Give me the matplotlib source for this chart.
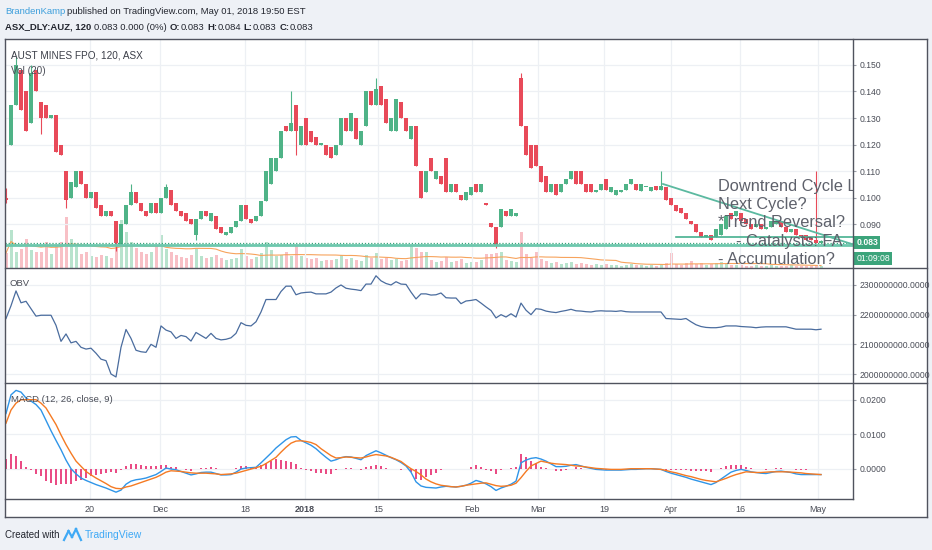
import numpy as np
import pandas as pd
import matplotlib
matplotlib.use('Agg')
import matplotlib.pyplot as plt
import matplotlib.transforms as mtransforms
from matplotlib.lines import Line2D
from matplotlib.patches import Rectangle
from matplotlib.ticker import FuncFormatter

plt.rcParams['font.family'] = ['Liberation Sans', 'DejaVu Sans']

W, H = 932, 550

# --- AUZ 120 min candles, prices in thousandths of a dollar ---
opens = [100, 120, 135, 148, 140, 128, 148, 136, 135, 130,
         131, 120, 110, 100, 104, 110, 105, 100, 102, 97,
         93, 95, 91, 82, 90, 97, 102, 98, 95, 94,
         98, 94, 100, 103, 98, 95, 94, 92, 86, 92,
         95, 91, 93, 89, 86, 86.5, 89, 91, 97, 92,
         91, 93, 98.5, 105, 110, 115, 127, 125, 135, 120,
         130, 125, 123, 120, 120, 119, 116, 120, 130, 125,
         130, 120, 127, 140, 135, 142, 137, 125, 125, 136,
         130, 122, 127, 110, 102, 115, 107, 108, 115, 102,
         105, 101, 99, 101, 105, 102, 98, 90.5, 89, 89,
         95, 93, 93, 145, 127, 120, 120, 112, 108, 102,
         105, 102, 105, 107, 110, 110, 105, 105, 102, 103,
         107, 102, 101, 102, 103, 105, 105, 102.5, 104, 102.5,
         104.5, 103, 104, 100, 97, 96, 94, 91, 90, 87,
         85, 86, 85, 86, 88, 94, 93, 94, 92, 90,
         89, 90, 88, 89, 90, 91, 89, 87, 88, 86,
         86, 85, 84, 83]
closes = [99, 135, 150, 133, 125, 147, 140, 130, 130, 131,
          117, 116, 99, 106, 110, 105, 100, 102, 96, 93,
          95, 93, 83, 90, 97, 102, 98, 95, 93, 98,
          94, 100, 104, 97, 95, 93, 91, 90, 92, 95,
          93, 94, 88, 86.5, 87, 89, 91, 97, 92, 90.5,
          93, 98.5, 110, 115, 115, 125, 125, 128, 125, 127,
          120, 121, 120, 120.5, 116, 115, 120, 130, 125, 132,
          122, 125, 140, 135, 141, 135, 128, 130, 137, 130,
          125, 127, 112, 100, 110, 110, 110, 105, 102, 105,
          102, 99, 102, 104, 102, 105, 97, 89, 82, 95.5,
          93, 95.5, 94, 127, 116, 111, 112, 106, 102, 105,
          101, 105, 107, 110, 105, 105, 102, 102, 103, 105,
          103, 104, 103, 103, 105, 107, 103, 105, 104, 104,
          103, 104.5, 99, 97, 95, 94, 92, 90, 87, 85,
          86, 84, 88, 90, 93, 92, 95, 91, 90, 88,
          90, 88, 89, 91, 91, 89, 87, 88, 86, 85,
          84, 84, 83, 83]
# wicks that stick out beyond the candle body
wick_highs = {0: 103.5, 2: 153, 5: 150, 25: 105, 32: 105, 57: 140, 74: 145,
              103: 147, 131: 110, 162: 110, 163: 84}
wick_lows = {0: 98, 7: 124, 12: 96, 22: 80, 38: 84, 58: 116, 98: 81}

volumes = [15, 38, 16, 19, 29, 18, 16, 16, 26, 14,
           22, 26, 51, 29, 21, 14, 16, 12, 11, 13,
           12, 10, 26, 48, 36, 26, 20, 16, 14, 16,
           22, 33, 19, 16, 13, 11, 10, 13, 19, 12,
           10, 11, 13, 10, 8, 9, 10, 19, 12, 9,
           11, 15, 26, 18, 12, 13, 16, 12, 23, 12,
           10, 9, 10, 7, 8, 8, 9, 13, 9, 10,
           8, 7, 13, 10, 15, 9, 10, 8, 9, 7,
           8, 23, 20, 16, 16, 8, 6, 7, 11, 6,
           7, 9, 5, 6, 6, 8, 14, 14, 15, 16,
           8, 7, 6, 36, 14, 10, 16, 9, 7, 5,
           6, 4, 5, 6, 4, 5, 4, 3, 4, 3,
           4, 3, 3, 2, 3, 4, 3, 3, 2, 3,
           2, 4, 5, 15, 4, 3, 5, 7, 4, 5,
           3, 4, 5, 6, 4, 3, 3, 3, 2, 2,
           3, 2, 2, 3, 2, 2, 2, 3, 2, 2,
           2, 2, 3, 2]

# on balance volume, millions
obv_millions = [2187, 2230, 2280, 2240, 2245, 2220, 2195, 2198, 2198, 2198,
                2164, 2110, 2135, 2105, 2110, 2090, 2084, 2087, 2070, 2050,
                2045, 2000, 1990, 2090, 2150, 2120, 2080, 2075, 2073, 2100,
                2090, 2162, 2148, 2142, 2120, 2130, 2126, 2111, 2140, 2130,
                2120, 2137, 2120, 2115, 2117, 2122, 2137, 2173, 2164, 2162,
                2176, 2209, 2251, 2251, 2251, 2278, 2296, 2296, 2267, 2273,
                2275, 2276, 2270, 2270, 2270, 2276, 2290, 2300, 2289, 2286,
                2284, 2281, 2303, 2303, 2331, 2314, 2305, 2300, 2311, 2303,
                2302, 2276, 2253, 2270, 2270, 2266, 2267, 2273, 2257, 2256,
                2256, 2237, 2246, 2248, 2251, 2239, 2226, 2214, 2189, 2200,
                2192, 2203, 2192, 2239, 2215, 2200, 2220, 2218, 2212, 2209,
                2207, 2211, 2214, 2218, 2213, 2212, 2210, 2209, 2212, 2213,
                2212, 2212, 2211, 2213, 2210, 2209, 2209, 2209, 2209, 2209,
                2209, 2209, 2187, 2186, 2185, 2184, 2187, 2176, 2166, 2160,
                2157, 2156, 2156, 2158, 2162, 2162, 2162, 2160, 2159, 2158,
                2156, 2158, 2159, 2159, 2159, 2159, 2159, 2155, 2151, 2151,
                2151, 2151, 2149, 2151]

# MACD (12, 26, 9) lines, in units of 0.0001
macd_line = [160, 214, 227, 222, 205, 196, 186, 170, 140, 110,
             82, 55, 25, 0, -15, -27, -34, -40, -46, -51,
             -56, -62, -68, -62, -45, -36, -32, -30, -27, -22,
             -17, -8, 2, -1, -3, -8, -13, -18, -15, -11,
             -10, -10, -14, -18, -18, -17, -10, -1, 2, 3,
             4, 17, 31, 45, 60, 72, 84, 92, 93, 82,
             75, 68, 58, 45, 33, 22, 26, 32, 35, 34,
             30, 26, 38, 45, 52, 46, 39, 32, 26, 18,
             8, -10, -38, -50, -54, -55, -56, -53, -51, -52,
             -53, -51, -48, -42, -34, -38, -44, -52, -63, -56,
             -51, -45, -36, 17, 25, 30, 32, 28, 22, 14,
             6, 6, 7, 10, 12, 8, 4, 1, -2, -3,
             -4, -4, -4, -4, -3, -2, -2, -1, 0, 0,
             -1, -2, -8, -13, -17, -21, -25, -30, -34, -38,
             -42, -46, -40, -30, -20, -10, -5, -2, -5, -9,
             -11, -13, -14, -11, -8, -7, -9, -11, -15, -17,
             -17, -17, -17, -17]
signal_line = [132, 170, 190, 200, 200, 200, 200, 190, 176, 152,
               128, 98, 70, 45, 22, 7, -8, -18, -27, -35,
               -43, -52, -57, -58, -53, -50, -45, -40, -35, -30,
               -25, -18, -10, -6, -7, -8, -10, -12, -13, -13,
               -13, -14, -15, -17, -16, -15, -13, -9, -5, -1,
               3, 7, 15, 24, 33, 48, 62, 74, 80, 81,
               79, 76, 70, 58, 48, 38, 31, 32, 34, 33,
               32, 31, 34, 38, 41, 39, 37, 33, 27, 21,
               10, 0, -8, -18, -30, -38, -44, -48, -50, -52,
               -53, -51, -48, -46, -44, -42, -41, -45, -49, -51,
               -50, -48, -42, -26, -8, 8, 15, 22, 19, 16,
               14, 13, 12, 10, 8, 7, 5, 3, 1, 0,
               -1, -2, -2, -2, -1, 0, 0, 0, 0, 0,
               -1, -2, -5, -9, -12, -16, -20, -23, -27, -31,
               -34, -36, -38, -33, -28, -22, -17, -13, -9, -10,
               -11, -11, -10, -9, -9, -9, -9, -10, -11, -12,
               -14, -15, -16, -17]

# time axis (bar index where each label sits)
tick_pos = [16.8, 30.8, 47.8, 59.8, 74.4, 93.2, 106.4, 119.6, 133, 146.8, 162.4]
tick_labels = ['20', 'Dec', '18', '2018', '15', 'Feb', 'Mar', '19', 'Apr', '16', 'May']

# drawings on the price pane
hline_level = 0.0822
support_level = 0.0852
support_start = 134
trend_x = [131.4, 169.4]
trend_y = [0.1051, 0.0823]
note_text = ('Downtrend Cycle L\nNext Cycle?\n*Trend Reversal?\n'
             '    - Catalysts: FA\n- Accumulation?')

# ---------------------------------------------------------------
o = np.array(opens) / 1000
c = np.array(closes) / 1000
n = len(c)
idx = np.arange(n)
hi = np.maximum(o, c)
lo = np.minimum(o, c)
for k, v in wick_highs.items():
    hi[k] = v / 1000
for k, v in wick_lows.items():
    lo[k] = v / 1000
up = c >= o
UP, DN = '#4fb387', '#e84a59'
cols = np.where(up, UP, DN)
vcols = np.where(up, '#b8e3cd', '#f8c0c6')
vol_ma = pd.Series(volumes, dtype=float).rolling(20, min_periods=1).mean()
macd = np.array(macd_line) / 10000
sig = np.array(signal_line) / 10000
hist = macd - sig
obv = np.array(obv_millions) * 1e6

fig = plt.figure(figsize=(W / 100, H / 100), dpi=100, facecolor='#eef1f6')
renderer = fig.canvas.get_renderer()


def fx(px):
    return px / W


def fy(py):
    return 1 - py / H


def fline(x0, y0, x1, y1, **kw):
    fig.add_artist(Line2D([fx(x0), fx(x1)], [fy(y0), fy(y1)],
                          transform=fig.transFigure, **kw))


def text_row(pieces, x0, y, size, color):
    # lay text pieces left to right, each one right after the last
    x = x0
    for txt, wt, col, gap in pieces:
        x += gap
        t = fig.text(fx(x), fy(y), txt, fontsize=size, fontweight=wt,
                     color=col or color, va='center')
        x += t.get_window_extent(renderer).width


fig.patches.append(Rectangle((fx(5), fy(517)), fx(927) - fx(5), fy(39) - fy(517),
                             transform=fig.transFigure, facecolor='white',
                             edgecolor='none', zorder=-5))

L, R = 5, 853
xlim = (-0.2, 169.4)
ax_v = fig.add_axes([fx(L), fy(268), fx(R) - fx(L), fy(39) - fy(268)], zorder=0)
ax_p = fig.add_axes([fx(L), fy(268), fx(R) - fx(L), fy(39) - fy(268)], zorder=1)
ax_o = fig.add_axes([fx(L), fy(383), fx(R) - fx(L), fy(268) - fy(383)])
ax_m = fig.add_axes([fx(L), fy(499), fx(R) - fx(L), fy(383) - fy(499)])

GRID = '#edf0f4'
LBL = '#4a4d57'
for ax in (ax_v, ax_p, ax_o, ax_m):
    ax.set_xlim(*xlim)
    for s in ax.spines.values():
        s.set_visible(False)
    ax.set_xticks(tick_pos)
    ax.tick_params(axis='x', length=0, labelbottom=False)
for ax in (ax_p, ax_o, ax_m):
    ax.yaxis.tick_right()
    ax.tick_params(axis='y', labelsize=6.2, labelcolor=LBL, color='#9a9da6',
                   length=2.5, width=0.8, pad=2)
    ax.grid(True, color=GRID, lw=0.9)
    ax.set_axisbelow(True)
ax_p.patch.set_visible(False)

# volume
ax_v.bar(idx, volumes, width=0.6, color=vcols, zorder=1)
ax_v.plot(idx, vol_ma, color='#f7a35c', lw=0.8, zorder=2)
ax_v.set_ylim(0, 229)
ax_v.set_yticks([])

# candles
ax_p.vlines(idx, lo, hi, color=cols, lw=0.8, zorder=3)
ax_p.bar(idx, np.maximum(np.abs(c - o), 0.0004), bottom=np.minimum(o, c),
         width=0.65, color=cols, zorder=4)
ax_p.set_ylim(0.0734, 0.15981)
ax_p.set_yticks(np.arange(0.09, 0.1505, 0.01))
ax_p.yaxis.set_major_formatter(FuncFormatter(lambda v, p: f'{v:.3f}'))

# drawings
ax_p.axhline(c[-1], color='#3aa57a', lw=0.9, ls=(0, (1, 1.5)), zorder=5)
ax_p.axhline(hline_level, color='#6cc7ad', lw=2, zorder=5)
ax_p.plot([support_start, xlim[1]], [support_level, support_level],
          color='#45b08f', lw=1.2, zorder=5)
ax_p.plot(trend_x, trend_y, color='#5bb9a0', lw=1.3, zorder=5)
ax_p.text(142.4, 0.0904, note_text, fontsize=11.8, color='#5e616b',
          ha='left', va='center', linespacing=1.27, clip_on=True, zorder=6)

blend = mtransforms.blended_transform_factory(ax_p.transAxes, ax_p.transData)
ax_p.annotate(f'{c[-1]:.3f}', xy=(1, c[-1]), xycoords=blend, xytext=(2.5, 0),
              textcoords='offset points', ha='left', va='center', fontsize=6.2,
              color='white', fontweight='bold', annotation_clip=False,
              bbox=dict(boxstyle='square,pad=0.25', fc='#3ca47b', ec='none'))
ax_p.annotate('01:09:08', xy=(1, c[-1]), xycoords=blend, xytext=(2.5, -11.5),
              textcoords='offset points', ha='left', va='center', fontsize=6.2,
              color='white', annotation_clip=False,
              bbox=dict(boxstyle='square,pad=0.25', fc='#3ca47b', ec='none'))

# OBV
ax_o.plot(idx, obv, color='#4a6c9e', lw=0.9)
ax_o.set_ylim(1.9697e9, 2.3572e9)
ax_o.set_yticks([2.0e9, 2.1e9, 2.2e9, 2.3e9])
ax_o.yaxis.set_major_formatter(FuncFormatter(lambda v, p: f'{v:.4f}'))

# MACD
ax_m.bar(idx, hist, width=0.35, color='#ea4c85', zorder=2)
ax_m.plot(idx, macd, color='#2f95e8', lw=1, zorder=3)
ax_m.plot(idx, sig, color='#f57a23', lw=1, zorder=3)
ax_m.set_ylim(-0.00878, 0.02484)
ax_m.set_yticks([0.0, 0.01, 0.02])
ax_m.yaxis.set_major_formatter(FuncFormatter(lambda v, p: f'{v:.4f}'))
ax_m.set_xticklabels(tick_labels)
ax_m.tick_params(axis='x', labelbottom=True, labelsize=6.5, labelcolor=LBL, pad=4)
for t in ax_m.get_xticklabels():
    if t.get_text() == '2018':
        t.set_fontweight('bold')

# pane titles
fig.text(fx(11), fy(55), 'AUST MINES FPO, 120, ASX', fontsize=7.2, color='#3b3e48',
         va='center', zorder=20)
fig.text(fx(11), fy(71), 'Vol (20)', fontsize=7.2, color='#4a4d57', va='center', zorder=20)
fig.text(fx(9), fy(284), 'OBV', fontsize=6.8, color='#4a4d57', va='center', zorder=20)
fig.text(fx(11), fy(399), 'MACD (12, 26, close, 9)', fontsize=6.8, color='#4a4d57',
         va='center', zorder=20)

# frame and pane separators
FR = dict(color='#50535e', lw=1, zorder=30)
fline(5, 39, 927, 39, **FR)
fline(5, 517, 927, 517, **FR)
fline(5, 39, 5, 517, **FR)
fline(927, 39, 927, 517, **FR)
fline(5, 268, 927, 268, **FR)
fline(5, 383, 927, 383, **FR)
fline(5, 499, 853, 499, **FR)
fline(853, 39, 853, 499, **FR)

# header
HD = '#23262f'
text_row([('BrandenKamp', 'normal', '#3d9fdc', 0),
          ('published on TradingView.com, May 01, 2018 19:50 EST', 'normal', None, 2)],
         5, 11, 6.8, HD)
chg = c[-1] - c[-2]
text_row([('ASX_DLY:AUZ, 120', 'bold', None, 0),
          (f'{c[-1]:.3f} {chg:.3f} ({chg / c[-2] * 100:.0f}%)', 'normal', None, 3),
          ('O:', 'bold', None, 3), (f'{o[-1]:.3f}', 'normal', None, 0),
          ('H:', 'bold', None, 3), (f'{hi[-1]:.3f}', 'normal', None, 0),
          ('L:', 'bold', None, 3), (f'{lo[-1]:.3f}', 'normal', None, 0),
          ('C:', 'bold', None, 3), (f'{c[-1]:.3f}', 'normal', None, 0)],
         5, 27, 6.8, HD)

# footer
fig.text(fx(5), fy(535), 'Created with', fontsize=7, color=HD, va='center')
fline(64, 540, 68.5, 531, color='#3fa9f5', lw=1.6)
fline(68.5, 531, 72, 537, color='#3fa9f5', lw=1.6)
fline(72, 537, 76, 529, color='#3fa9f5', lw=1.6)
fline(76, 529, 81, 540, color='#3fa9f5', lw=1.6)
fig.text(fx(85), fy(535), 'TradingView', fontsize=7.5, color='#3fa9f5', va='center')

fig.savefig('out.png', dpi=100, facecolor=fig.get_facecolor())
